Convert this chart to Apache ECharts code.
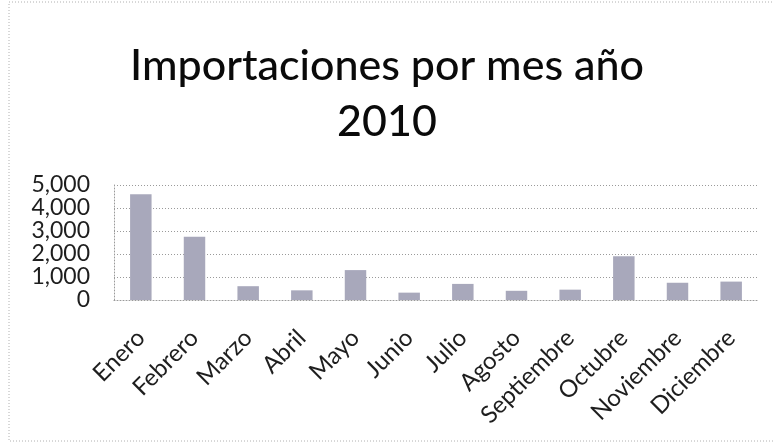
<!DOCTYPE html>
<html>
<head>
<meta charset="utf-8">
<script src="https://cdn.jsdelivr.net/npm/echarts@6/dist/echarts.min.js"></script>
<style>
  html, body { margin: 0; padding: 0; background: #fff; }
  #chart { width: 774px; height: 444px; }
</style>
</head>
<body>
<div id="chart"></div>
<script>
// Monthly import volumes for 2010
const titleText = 'Importaciones por mes año\n2010';
const months = ['Enero', 'Febrero', 'Marzo', 'Abril', 'Mayo', 'Junio',
                'Julio', 'Agosto', 'Septiembre', 'Octubre', 'Noviembre', 'Diciembre'];
const imports = [4600, 2750, 600, 420, 1300, 320, 700, 400, 450, 1900, 750, 800];
const yTicks = { min: 0, max: 5000, interval: 1000 };

const chart = echarts.init(document.getElementById('chart'), null, { renderer: 'canvas' });

const fontFamily = 'Lato, "Open Sans", sans-serif';
const dotted = { color: '#9a9a9a', width: 1, type: [1, 2] };

chart.setOption({
  backgroundColor: '#ffffff',
  animation: false,
  title: {
    text: titleText,
    left: 'center',
    top: 33,
    textStyle: {
      fontFamily: fontFamily,
      fontSize: 43,
      fontWeight: 500,
      color: '#0a0a0a',
      lineHeight: 56
    }
  },
  grid: { left: 114, right: 16, top: 185, bottom: 144 },
  xAxis: {
    type: 'category',
    data: months,
    axisLine: { show: true, lineStyle: dotted },
    axisTick: { show: false },
    axisLabel: {
      interval: 0,
      rotate: 45,
      margin: 34,
      fontFamily: fontFamily,
      fontSize: 24,
      color: '#1e1e1e'
    }
  },
  yAxis: {
    type: 'value',
    min: yTicks.min,
    max: yTicks.max,
    interval: yTicks.interval,
    axisLine: { show: true, lineStyle: dotted },
    axisTick: { show: false },
    splitLine: { show: true, lineStyle: dotted },
    axisLabel: {
      margin: 24,
      fontFamily: fontFamily,
      fontSize: 23,
      color: '#1e1e1e',
      formatter: v => v.toLocaleString('en-US')
    }
  },
  series: [{
    type: 'bar',
    data: imports,
    barWidth: '40%',
    itemStyle: { color: '#a8a8bb' }
  }],
  graphic: [{
    type: 'rect',
    shape: { x: 9, y: 2, width: 770, height: 439 },
    style: { fill: 'none', stroke: '#b0b0b0', lineWidth: 1, lineDash: [1, 2] },
    silent: true
  }]
});
</script>
</body>
</html>
